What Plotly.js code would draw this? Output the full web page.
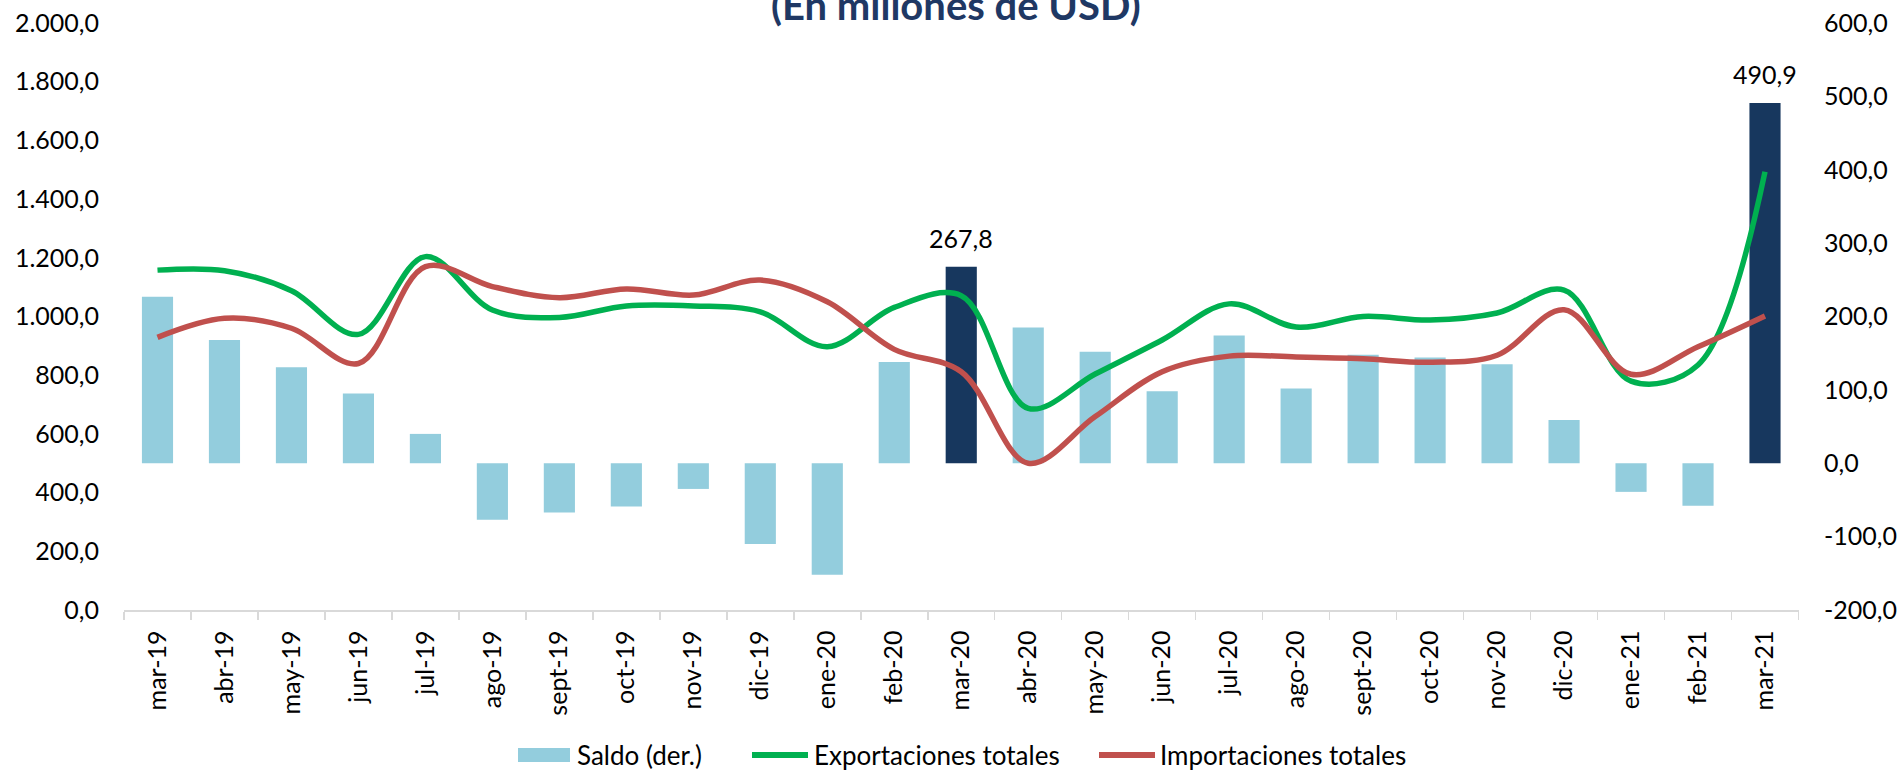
<!DOCTYPE html>
<html>
<head>
<meta charset="utf-8">
<script src="https://cdn.plot.ly/plotly-3.0.1.min.js"></script>
<style>
  html, body { margin: 0; padding: 0; background: #ffffff; }
  #chart { width: 1903px; height: 772px; }
</style>
</head>
<body>
<div id="chart"></div>
<script>
// Categories (months)
const categories = ['mar-19','abr-19','may-19','jun-19','jul-19','ago-19','sept-19','oct-19','nov-19','dic-19',
  'ene-20','feb-20','mar-20','abr-20','may-20','jun-20','jul-20','ago-20','sept-20','oct-20','nov-20','dic-20',
  'ene-21','feb-21','mar-21'];

// Saldo (right axis), millions USD
const saldo = [227, 168, 131, 95, 40, -77, -67, -59, -35, -110, -152, 138, 267.8, 185, 152, 98, 174, 102, 148, 144, 135, 59, -39, -58, 490.9];

// Exportaciones totales (left axis)
const exportaciones = [1158, 1156, 1088, 939, 1204, 1022, 997, 1036, 1036, 1016, 897, 1031, 1071, 687, 804, 920, 1043, 964, 1000, 988, 1012, 1090, 780, 835, 1493];

// Importaciones totales (left axis)
const importaciones = [929, 994, 960, 840, 1170, 1102, 1064, 1094, 1073, 1124, 1050, 888, 812, 500, 659, 812, 865, 862, 856, 844, 868, 1023, 803, 897, 1002];

// Highlighted months (dark bars with value labels)
const highlighted = ['mar-20', 'mar-21'];

// Tick values
const leftTicks = [0, 200, 400, 600, 800, 1000, 1200, 1400, 1600, 1800, 2000];
const rightTicks = [-200, -100, 0, 100, 200, 300, 400, 500, 600];

// Legend entries
const legendNames = ['Saldo (der.)', 'Exportaciones totales', 'Importaciones totales'];

const FONT = 'Lato, "Open Sans", "DejaVu Sans", sans-serif';
const C_BAR = '#93CDDD', C_BAR_HI = '#17375E', C_EXP = '#00B050', C_IMP = '#C0504D';
const fmt1 = v => v.toFixed(1).replace('.', ',');

// plot area in pixels: x 124..1799, y 23..610
const PL = 124, PR = 1799, PT = 23, PB = 610;
const px = x => (x - PL) / (PR - PL);
const py = y => (PB - y) / (PB - PT);

const barColors = categories.map(c => highlighted.includes(c) ? C_BAR_HI : C_BAR);

const traces = [
  {
    type: 'bar', name: legendNames[0], x: categories, y: saldo, yaxis: 'y',
    marker: { color: barColors, line: { width: 0 } }, showlegend: false
  },
  {
    type: 'scatter', mode: 'lines', name: legendNames[1], x: categories, y: exportaciones, yaxis: 'y2',
    line: { color: C_EXP, width: 5.5, shape: 'spline', smoothing: 1 }, showlegend: false
  },
  {
    type: 'scatter', mode: 'lines', name: legendNames[2], x: categories, y: importaciones, yaxis: 'y2',
    line: { color: C_IMP, width: 5.5, shape: 'spline', smoothing: 1 }, showlegend: false
  }
];

// value labels above highlighted bars
const valueLabels = categories
  .map((c, i) => ({ c, v: saldo[i] }))
  .filter(d => highlighted.includes(d.c))
  .map(d => ({
    x: d.c, y: d.v, xref: 'x', yref: 'y', text: fmt1(d.v), showarrow: false,
    yanchor: 'bottom', yshift: 12, font: { family: FONT, size: 25, color: '#000000' }
  }));

// manual legend
const LY = 755;
const legendShapes = [
  { type: 'rect', xref: 'paper', yref: 'paper', x0: px(518), x1: px(570), y0: py(762), y1: py(748),
    fillcolor: C_BAR, line: { width: 0 } },
  { type: 'line', xref: 'paper', yref: 'paper', x0: px(752), x1: px(808), y0: py(LY), y1: py(LY),
    line: { color: C_EXP, width: 6 } },
  { type: 'line', xref: 'paper', yref: 'paper', x0: px(1099), x1: px(1155), y0: py(LY), y1: py(LY),
    line: { color: C_IMP, width: 6 } }
];
const legendTextX = [575, 812, 1158];
const legendTexts = legendNames.map((n, i) => ({
  text: n, xref: 'paper', yref: 'paper', x: px(legendTextX[i]), y: py(LY),
  xanchor: 'left', yanchor: 'middle', showarrow: false,
  font: { family: FONT, size: 26, color: '#000000' }
}));

const layout = {
  width: 1903, height: 772,
  margin: { l: PL, r: 1903 - PR, t: PT, b: 772 - PB },
  paper_bgcolor: '#ffffff', plot_bgcolor: 'rgba(0,0,0,0)',
  separators: ',.',
  font: { family: FONT, size: 25, color: '#000000' },
  bargap: 0.535,
  showlegend: false,
  xaxis: {
    type: 'category', tickangle: -90,
    showline: true, linecolor: '#D9D9D9', linewidth: 1.5,
    ticks: 'outside', tickson: 'boundaries', ticklen: 8, tickcolor: '#D9D9D9', tickwidth: 1.5,
    showgrid: false, zeroline: false,
    tickfont: { family: FONT, size: 25, color: '#000000' },
    ticklabelstandoff: 9
  },
  yaxis: {
    range: [-200, 600], side: 'right',
    tickvals: rightTicks, ticktext: rightTicks.map(fmt1),
    showgrid: false, zeroline: false, showline: false, ticks: '',
    tickfont: { family: FONT, size: 25, color: '#000000' },
    ticklabelstandoff: 24
  },
  yaxis2: {
    range: [0, 2000], overlaying: 'y', side: 'left',
    tickvals: leftTicks, tickformat: ',.1f',
    showgrid: false, zeroline: false, showline: false, ticks: '',
    tickfont: { family: FONT, size: 25, color: '#000000' },
    ticklabelstandoff: 24
  },
  shapes: legendShapes,
  annotations: [
    {
      text: '<b>(En millones de USD)</b>', xref: 'paper', yref: 'paper',
      x: px(956), xanchor: 'center', y: 0.987, yanchor: 'bottom',
      showarrow: false, font: { family: FONT, size: 40, color: '#1F3864' }
    }
  ].concat(valueLabels, legendTexts)
};

Plotly.newPlot('chart', traces, layout, { displayModeBar: false, staticPlot: true });
</script>
</body>
</html>
